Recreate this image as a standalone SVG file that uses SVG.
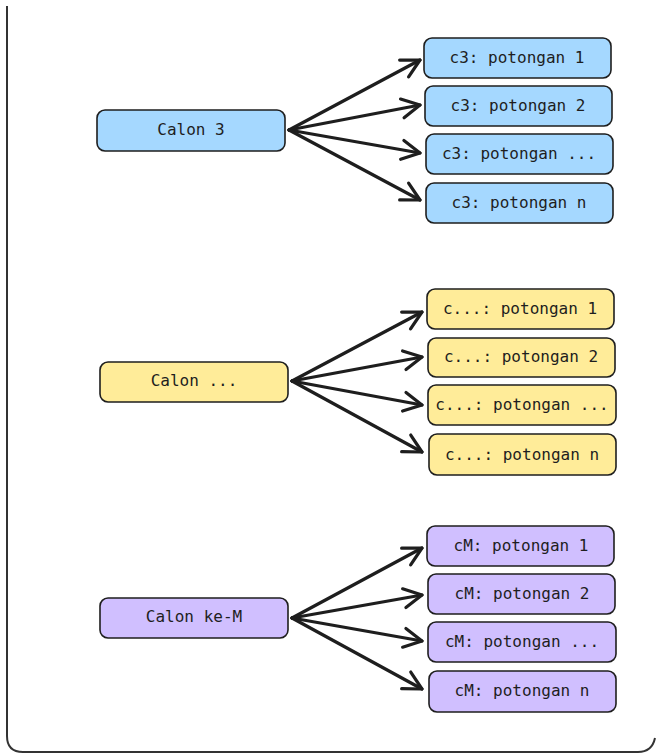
<svg xmlns="http://www.w3.org/2000/svg" width="657" height="754" viewBox="0 0 657 754">
  <style>
    .box { stroke: #1e1e1e; stroke-width: 1.6; }
    .blue { fill: #a5d8ff; }
    .yellow { fill: #ffec99; }
    .purple { fill: #d0bfff; }
    .label { font-family: "DejaVu Sans Mono", "Liberation Mono", monospace; font-size: 16px; fill: #1e1e1e; text-anchor: middle; dominant-baseline: central; }
    .edge { fill: none; stroke: #1e1e1e; stroke-width: 3.2; stroke-linecap: round; marker-end: url(#chevron); }
    .frame { fill: none; stroke: #333333; stroke-width: 2; }
  </style>
  <defs>
    <marker id="chevron" markerUnits="userSpaceOnUse" markerWidth="30" markerHeight="30" refX="21" refY="15" orient="auto" overflow="visible">
      <path d="M3,5.5 L21,15 L3,24.5" fill="none" stroke="#1e1e1e" stroke-width="3.2" stroke-linecap="round" stroke-linejoin="round"/>
    </marker>
  </defs>

  <rect width="657" height="754" fill="#ffffff"/>

  <!-- outer frame -->
  <path class="frame" d="M7,6 V736 Q7,752 23,752 H638 Q652,752 655,738"/>

  <!-- connectors -->
  <g id="connectors">
    <path class="edge" d="M289,130 L420,60"/>
    <path class="edge" d="M289,130 L420,105"/>
    <path class="edge" d="M289,130 L420,153"/>
    <path class="edge" d="M289,130 L420,200"/>

    <path class="edge" d="M292,381 L422,312"/>
    <path class="edge" d="M292,381 L422,357"/>
    <path class="edge" d="M292,381 L422,405"/>
    <path class="edge" d="M292,381 L422,452"/>

    <path class="edge" d="M292,618 L422,548"/>
    <path class="edge" d="M292,618 L422,595"/>
    <path class="edge" d="M292,618 L422,641"/>
    <path class="edge" d="M292,618 L422,689"/>
  </g>

  <!-- candidate 3 -->
  <g id="calon-3">
    <rect class="box blue" x="97" y="110" width="188" height="41" rx="8"/>
    <text class="label" x="191" y="129">Calon 3</text>
  </g>
  <g id="c3-p1">
    <rect class="box blue" x="424" y="38" width="187" height="40" rx="8"/>
    <text class="label" x="517" y="57">c3: potongan 1</text>
  </g>
  <g id="c3-p2">
    <rect class="box blue" x="425" y="86" width="187" height="40" rx="8"/>
    <text class="label" x="518" y="105">c3: potongan 2</text>
  </g>
  <g id="c3-pdots">
    <rect class="box blue" x="426" y="134" width="187" height="40" rx="8"/>
    <text class="label" x="519" y="153">c3: potongan ...</text>
  </g>
  <g id="c3-pn">
    <rect class="box blue" x="426" y="183" width="187" height="40" rx="8"/>
    <text class="label" x="519" y="202">c3: potongan n</text>
  </g>

  <!-- candidate ... -->
  <g id="calon-dots">
    <rect class="box yellow" x="100" y="362" width="188" height="40" rx="8"/>
    <text class="label" x="194" y="380">Calon ...</text>
  </g>
  <g id="cd-p1">
    <rect class="box yellow" x="427" y="289" width="187" height="40" rx="8"/>
    <text class="label" x="520" y="308">c...: potongan 1</text>
  </g>
  <g id="cd-p2">
    <rect class="box yellow" x="428" y="338" width="187" height="39" rx="8"/>
    <text class="label" x="521" y="356">c...: potongan 2</text>
  </g>
  <g id="cd-pdots">
    <rect class="box yellow" x="428" y="385" width="188" height="40" rx="8"/>
    <text class="label" x="522" y="404">c...: potongan ...</text>
  </g>
  <g id="cd-pn">
    <rect class="box yellow" x="429" y="434" width="187" height="41" rx="8"/>
    <text class="label" x="522" y="454">c...: potongan n</text>
  </g>

  <!-- candidate M -->
  <g id="calon-m">
    <rect class="box purple" x="100" y="598" width="188" height="40" rx="8"/>
    <text class="label" x="194" y="616">Calon ke-M</text>
  </g>
  <g id="cm-p1">
    <rect class="box purple" x="427" y="526" width="187" height="40" rx="8"/>
    <text class="label" x="521" y="545">cM: potongan 1</text>
  </g>
  <g id="cm-p2">
    <rect class="box purple" x="428" y="574" width="187" height="40" rx="8"/>
    <text class="label" x="522" y="593">cM: potongan 2</text>
  </g>
  <g id="cm-pdots">
    <rect class="box purple" x="428" y="622" width="188" height="40" rx="8"/>
    <text class="label" x="522" y="641">cM: potongan ...</text>
  </g>
  <g id="cm-pn">
    <rect class="box purple" x="429" y="671" width="187" height="41" rx="8"/>
    <text class="label" x="522" y="690">cM: potongan n</text>
  </g>
</svg>
